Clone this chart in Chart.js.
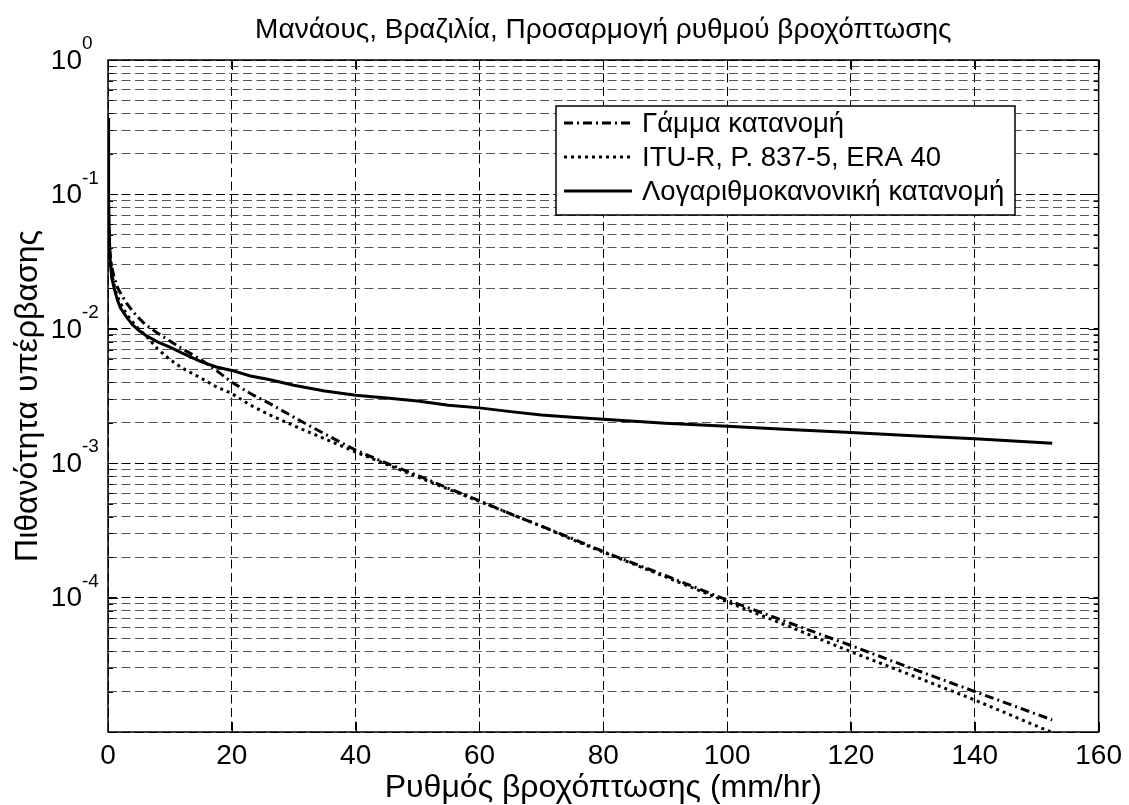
<!DOCTYPE html>
<html>
<head>
<meta charset="utf-8">
<script src="https://cdn.jsdelivr.net/npm/chart.js@4.4.1/dist/chart.umd.min.js"></script>
<style>
  html, body { margin: 0; padding: 0; background: #fff; }
  #wrap { width: 1129px; height: 805px; }
</style>
</head>
<body>
<div id="wrap"><canvas id="rainChart"></canvas></div>
<script>
// rain rate (mm/hr), shared by the three curves
const rate = [0.02, 0.1, 0.3, 0.6, 1, 1.5, 2, 3, 4, 5, 6, 8, 10, 12, 15, 17.5, 20, 23, 26, 30,
  35, 40, 45, 50, 55, 60, 65, 70, 75, 80, 90, 100, 110, 120, 130, 140, 152.5];

// exceedance probability
const gammaFit = [0.2, 0.06, 0.038, 0.029, 0.024, 0.0205, 0.0185, 0.0155, 0.0135, 0.012, 0.0108, 0.0093,
  0.0081, 0.0071, 0.0059, 0.0049, 0.0040, 0.0033, 0.0028, 0.0022,
  0.00165, 0.00125, 0.001, 0.00081, 0.00065, 0.000525, 0.00042, 0.00034, 0.000275, 0.00022,
  0.000146, 0.000096, 0.000065, 0.000044, 0.0000295, 0.00002, 0.0000123];
const ituR = [0.08, 0.05, 0.033, 0.026, 0.021, 0.0175, 0.0155, 0.0128, 0.0112, 0.0099, 0.0090, 0.0071,
  0.0059, 0.0051, 0.0043, 0.0037, 0.0033, 0.0027, 0.0023, 0.0019,
  0.00152, 0.00121, 0.00098, 0.00079, 0.00064, 0.00052, 0.00042, 0.00034, 0.00027, 0.000218,
  0.000143, 0.000093, 0.000061, 0.0000395, 0.0000262, 0.0000173, 0.0000099];
const logNormalFit = [0.37, 0.09, 0.035, 0.024, 0.02, 0.0165, 0.0143, 0.0122, 0.0107, 0.0097, 0.0090, 0.0080,
  0.0073, 0.0066, 0.0057, 0.0052, 0.0049, 0.00445, 0.0042, 0.0038,
  0.00345, 0.0032, 0.00305, 0.0029, 0.0027, 0.00258, 0.00242, 0.00228, 0.0022, 0.00212,
  0.00198, 0.00188, 0.00178, 0.00169, 0.0016, 0.00152, 0.00141];

const seriesNames = ['Γάμμα κατανομή', 'ITU-R, P. 837-5, ERA 40', 'Λογαριθμοκανονική κατανομή'];

const xTicks = [0, 20, 40, 60, 80, 100, 120, 140, 160];
const yLabelValues = [1, 0.1, 0.01, 0.001, 0.0001];
const yLabelExps = ['0', '-1', '-2', '-3', '-4'];

const FONT = '"Liberation Sans", Arial, Helvetica, sans-serif';

function pts(ys) {
  return rate.map((x, i) => ({ x: x, y: ys[i] }));
}

// MATLAB-ish frame, inner ticks, y labels with superscripts, boxed legend
const matlabAxes = {
  id: 'matlabAxes',
  afterDraw(chart) {
    const ctx = chart.ctx;
    const a = chart.chartArea;
    const xs = chart.scales.x, ys = chart.scales.y;
    ctx.save();

    ctx.strokeStyle = '#000';
    ctx.lineWidth = 1;
    ctx.setLineDash([]);
    ctx.beginPath();
    xTicks.forEach(v => {
      const px = Math.round(xs.getPixelForValue(v)) + 0.5;
      ctx.moveTo(px, a.bottom); ctx.lineTo(px, a.bottom - 10);
      ctx.moveTo(px, a.top); ctx.lineTo(px, a.top + 10);
    });
    ys.ticks.forEach(t => {
      const py = Math.round(ys.getPixelForValue(t.value)) + 0.5;
      const len = t.major ? 10 : 5;
      ctx.moveTo(a.left, py); ctx.lineTo(a.left + len, py);
      ctx.moveTo(a.right, py); ctx.lineTo(a.right - len, py);
    });
    ctx.stroke();

    ctx.lineWidth = 1.5;
    ctx.strokeRect(a.left, a.top, a.right - a.left, a.bottom - a.top);

    ctx.fillStyle = '#000';
    yLabelValues.forEach((v, i) => {
      const py = ys.getPixelForValue(v);
      ctx.font = '28px ' + FONT;
      ctx.textAlign = 'right';
      ctx.textBaseline = 'middle';
      ctx.fillText('10', 82, py + 1);
      ctx.font = '19px ' + FONT;
      ctx.textAlign = 'left';
      ctx.fillText(yLabelExps[i], 82, py - 16);
    });

    // legend
    const box = { left: 556, top: 106, right: 1015, bottom: 215 };
    ctx.fillStyle = '#fff';
    ctx.fillRect(box.left, box.top, box.right - box.left, box.bottom - box.top);
    ctx.lineWidth = 1.5;
    ctx.strokeStyle = '#000';
    ctx.strokeRect(box.left, box.top, box.right - box.left, box.bottom - box.top);
    chart.data.datasets.forEach((ds, i) => {
      const yRow = 123 + i * 34;
      ctx.lineWidth = ds.borderWidth;
      ctx.setLineDash(ds.borderDash || []);
      ctx.beginPath();
      ctx.moveTo(564, yRow); ctx.lineTo(632, yRow);
      ctx.stroke();
      ctx.setLineDash([]);
      ctx.fillStyle = '#000';
      ctx.font = '27.5px ' + FONT;
      ctx.textAlign = 'left';
      ctx.textBaseline = 'middle';
      ctx.fillText(ds.label, 642, yRow + 1);
    });
    ctx.restore();
  }
};

const ctx = document.getElementById('rainChart').getContext('2d');
new Chart(ctx, {
  type: 'line',
  data: {
    datasets: [
      { label: seriesNames[0], data: pts(gammaFit), borderColor: '#000', borderWidth: 3,
        borderDash: [9, 4, 2, 4], pointRadius: 0, fill: false },
      { label: seriesNames[1], data: pts(ituR), borderColor: '#000', borderWidth: 3,
        borderDash: [3, 4], pointRadius: 0, fill: false },
      { label: seriesNames[2], data: pts(logNormalFit), borderColor: '#000', borderWidth: 3,
        borderDash: [], pointRadius: 0, fill: false }
    ]
  },
  options: {
    responsive: true,
    maintainAspectRatio: false,
    animation: false,
    events: [],
    layout: { padding: { left: 0, right: 28, top: 0, bottom: 0 } },
    plugins: {
      legend: { display: false },
      tooltip: { enabled: false },
      title: {
        display: true,
        fullSize: false,
        text: 'Μανάους, Βραζιλία, Προσαρμογή ρυθμού βροχόπτωσης',
        color: '#000',
        font: { family: FONT, size: 28, weight: 'normal' },
        padding: { top: 13, bottom: 13.4 }
      }
    },
    scales: {
      x: {
        type: 'linear',
        min: 0,
        max: 160,
        afterBuildTicks: s => { s.ticks = xTicks.map(v => ({ value: v })); },
        afterFit: s => { s.height = 73; },
        ticks: { color: '#000', font: { family: FONT, size: 28 }, padding: 7, maxRotation: 0 },
        grid: { color: '#000', lineWidth: 1, drawTicks: false },
        border: { display: false, dash: [9, 4.5] },
        title: {
          display: true,
          text: 'Ρυθμός βροχόπτωσης (mm/hr)',
          color: '#000',
          font: { family: FONT, size: 32 },
          padding: { top: 0, bottom: -2 }
        }
      },
      y: {
        type: 'logarithmic',
        min: 1e-5,
        max: 1,
        afterBuildTicks: s => {
          const t = [];
          for (let e = -5; e < 0; e++) {
            for (let k = 1; k <= 9; k++) t.push({ value: k * Math.pow(10, e), major: k === 1 });
          }
          t.push({ value: 1, major: true });
          s.ticks = t;
        },
        afterFit: s => { s.width = 108; },
        ticks: { display: false },
        grid: {
          color: c => (c.tick && c.tick.major) ? '#000' : '#555',
          lineWidth: 1,
          drawTicks: false
        },
        border: { display: false, dash: [9, 4.5] },
        title: {
          display: true,
          text: 'Πιθανότητα υπέρβασης',
          color: '#000',
          font: { family: FONT, size: 32 },
          padding: { top: 9, bottom: 0 }
        }
      }
    }
  },
  plugins: [matlabAxes]
});
</script>
</body>
</html>
